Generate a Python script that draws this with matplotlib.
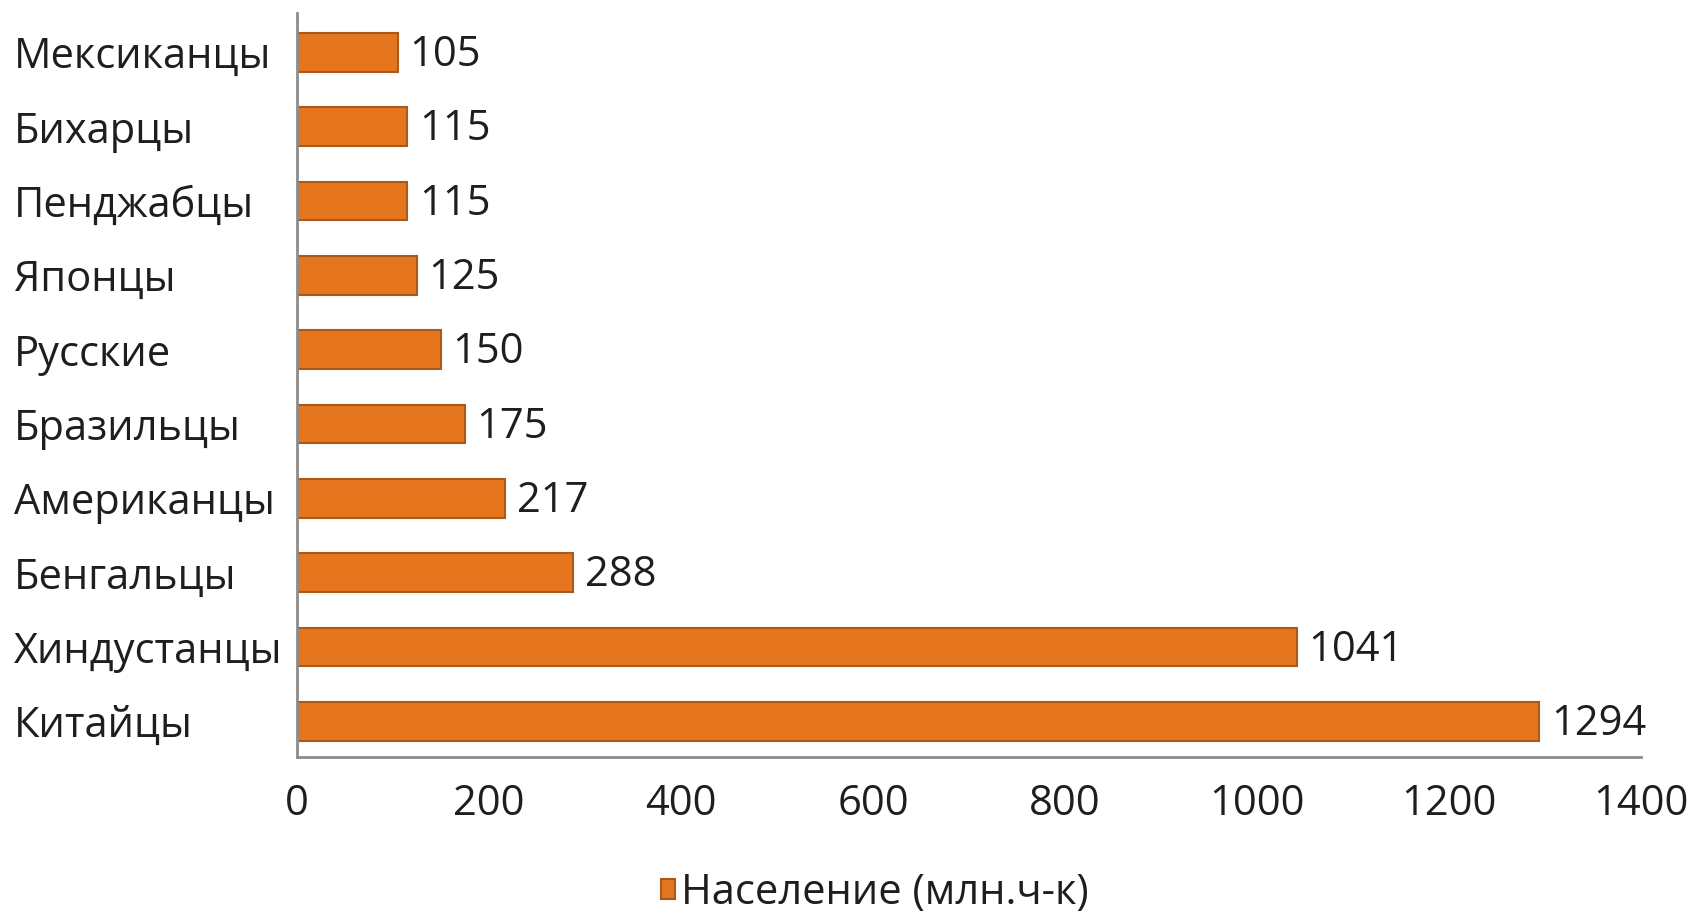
import matplotlib.pyplot as plt

plt.rcParams['font.family'] = ['Open Sans', 'DejaVu Sans']

groups = ["Мексиканцы", "Бихарцы", "Пенджабцы", "Японцы", "Русские",
          "Бразильцы", "Американцы", "Бенгальцы", "Хиндустанцы", "Китайцы"]
population = [105, 115, 115, 125, 150, 175, 217, 288, 1041, 1294]
xticks = [0, 200, 400, 600, 800, 1000, 1200, 1400]

fig = plt.figure(figsize=(16.92, 9.13), dpi=100)
ax = fig.add_axes([0.1755, 0.171, 0.7945, 0.815])

ypos = list(range(len(groups)))[::-1]
bars = ax.barh(ypos, population, height=0.52, color='#E6761E',
               edgecolor='#A85A1C', linewidth=1.5, label='Население (млн.ч-к)')
for y, v in zip(ypos, population):
    ax.text(v + 12, y - 0.04, str(v), va='center', ha='left', fontsize=30, color='#1E1E1E')

ax.set_xlim(0, 1400)
ax.set_ylim(-0.48, 9.53)
ax.set_yticks(ypos)
ax.set_yticklabels(groups, fontsize=30, color='#1E1E1E')
for lab in ax.get_yticklabels():
    lab.set_horizontalalignment('left')
ax.set_xticks(xticks)
ax.set_xticklabels([str(t) for t in xticks], fontsize=30, color='#1E1E1E')
ax.tick_params(axis='both', length=0)
ax.tick_params(axis='y', pad=204)
ax.tick_params(axis='x', pad=19)

for s in ['top', 'right']:
    ax.spines[s].set_visible(False)
for s in ['left', 'bottom']:
    ax.spines[s].set_color('#8C8C8C')
    ax.spines[s].set_linewidth(2)

fig.legend(handles=[bars], loc='center', bbox_to_anchor=(0.517, 0.022),
           frameon=False, fontsize=30, handlelength=0.35, handleheight=0.35,
           handletextpad=0.15, labelcolor='#1E1E1E')

fig.savefig('out.png', dpi=100)
